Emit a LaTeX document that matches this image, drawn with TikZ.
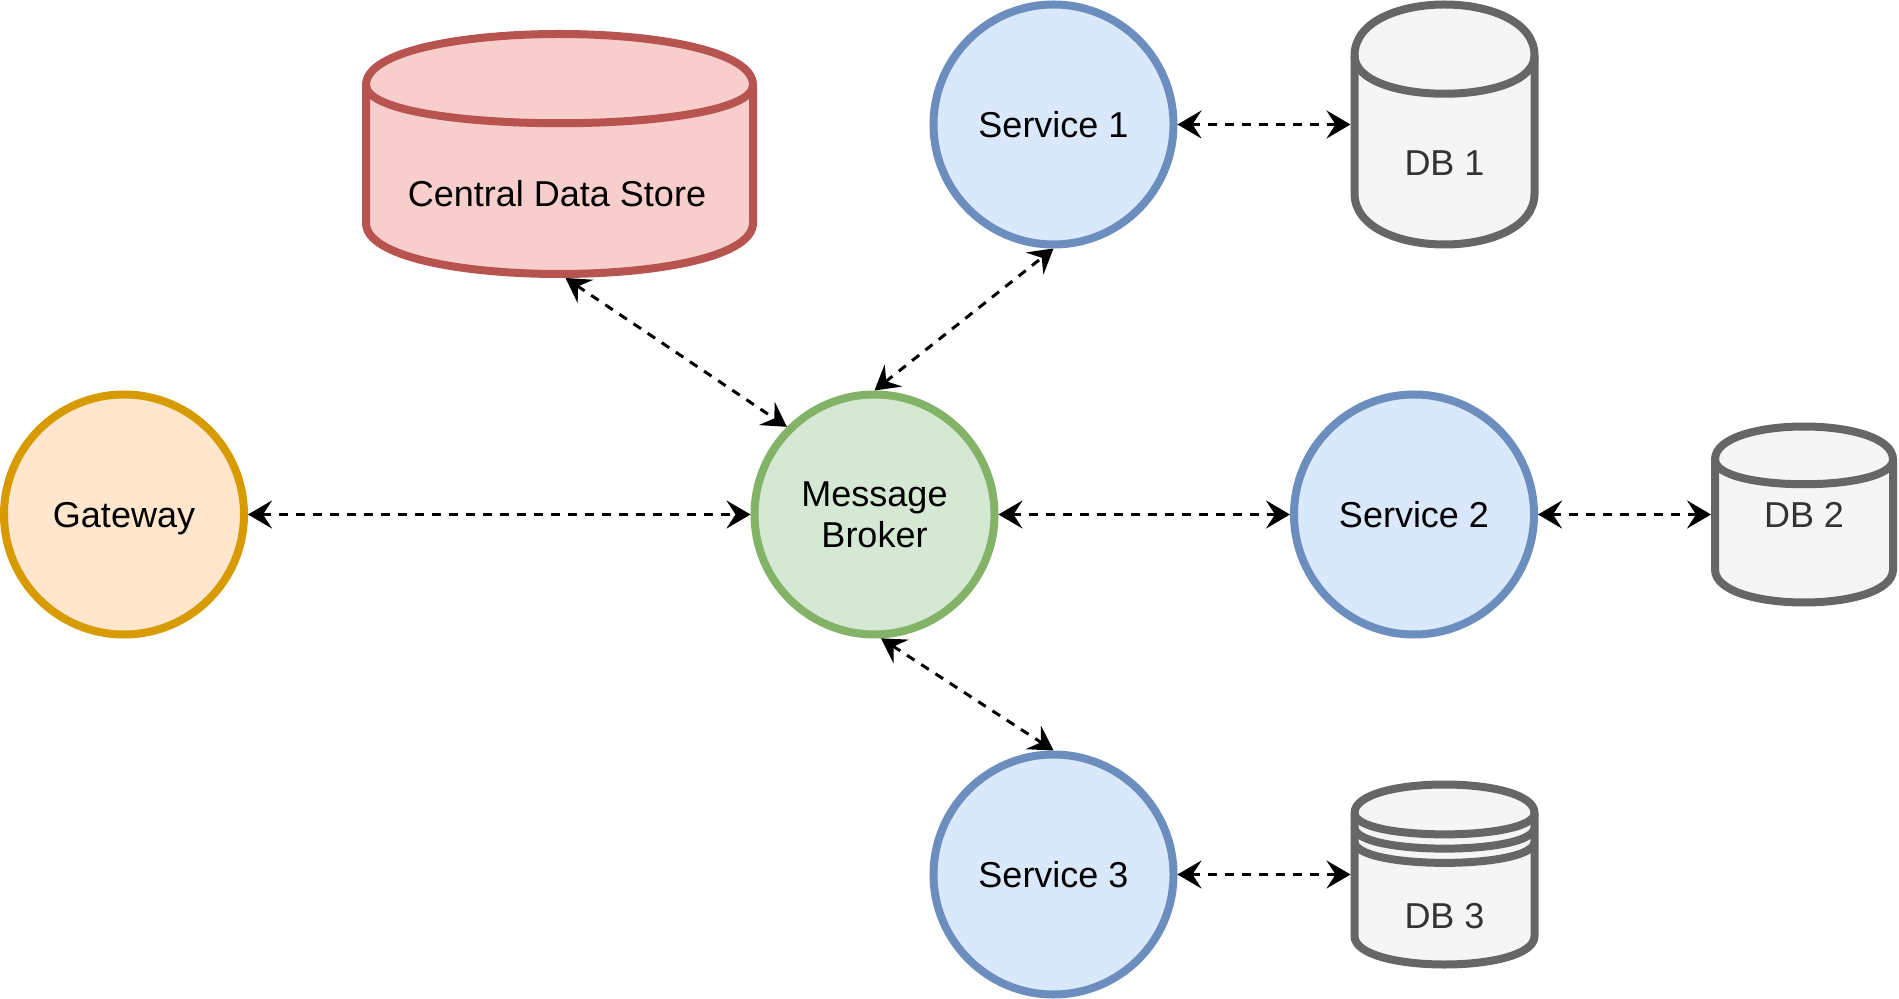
\documentclass[tikz,border=0pt]{standalone}
\usepackage{fontspec}
\setmainfont{Liberation Sans}
\usetikzlibrary{arrows.meta}
\definecolor{gwFill}{HTML}{FFE6CC}\definecolor{gwLine}{HTML}{D79B00}
\definecolor{mbFill}{HTML}{D5E8D4}\definecolor{mbLine}{HTML}{82B366}
\definecolor{svFill}{HTML}{DAE8FC}\definecolor{svLine}{HTML}{6C8EBF}
\definecolor{csFill}{HTML}{F8CECC}\definecolor{csLine}{HTML}{B85450}
\definecolor{dbFill}{HTML}{F5F5F5}\definecolor{dbLine}{HTML}{666666}
\definecolor{dbText}{HTML}{333333}
% #1 left x, #2 top y, #3 width, #4 height, #5 dy, #6 style
\newcommand\cylshape[6]{%
  \draw[#6] (#1,#2+#5) .. controls (#1,#2-#5/3) and (#1+#3,#2-#5/3) .. (#1+#3,#2+#5)
    -- (#1+#3,#2+#4-#5) .. controls (#1+#3,#2+#4+#5/3) and (#1,#2+#4+#5/3) .. (#1,#2+#4-#5) -- cycle;
  \draw[#6,fill=none] (#1,#2+#5) .. controls (#1,#2+2*#5) and (#1+#3,#2+2*#5) .. (#1+#3,#2+#5);
}
\newcommand\storebands[5]{%
  \draw[#5,fill=none] (#1,#2+1.5*#4) .. controls (#1,#2+2.5*#4) and (#1+#3,#2+2.5*#4) .. (#1+#3,#2+1.5*#4);
  \draw[#5,fill=none] (#1,#2+2*#4) .. controls (#1,#2+3*#4) and (#1+#3,#2+3*#4) .. (#1+#3,#2+2*#4);
}
\begin{document}
\begin{tikzpicture}[x=0.5pt,y=-0.5pt,
  every node/.style={font=\fontsize{18}{20.5}\selectfont},
  roundnode/.style={circle, line width=4pt, minimum size=120pt, inner sep=0pt, align=center, text depth=0pt},
  gateway/.style={roundnode, draw=gwLine, fill=gwFill},
  broker/.style={roundnode, draw=mbLine, fill=mbFill},
  service/.style={roundnode, draw=svLine, fill=svFill},
  cylbox/.style={rectangle, inner sep=0pt, outer sep=0pt},
  dbstyle/.style={line width=4pt, draw=dbLine, fill=dbFill},
  csstyle/.style={line width=4pt, draw=csLine, fill=csFill},
  dblabel/.style={text=dbText},
  conn/.style={draw=black, line width=1.5pt, dash pattern=on 4.5pt off 4pt,
    >={Stealth[length=12pt,width=14pt,inset=4.5pt]}, <->}]
\useasboundingbox (0,0) rectangle (1899,999);

% circles
\node[gateway] (gw) at (124,514.5) {Gateway};
\node[broker]  (mb) at (874.5,514.5) {Message\\Broker};
\node[service] (s1) at (1053.5,124.5) {Service 1};
\node[service] (s2) at (1414,514.5) {Service 2};
\node[service] (s3) at (1053.5,874.5) {Service 3};

% Central Data Store
\cylshape{366}{34}{387}{240}{51}{csstyle}
\node[cylbox, minimum width=197.5pt, minimum height=124pt] (cds) at (559.5,154) {};
\node (cdstxt) at (557,194) {Central Data Store};

% DB 1
\cylshape{1354.5}{4.5}{180}{240}{51}{dbstyle}
\node[cylbox, minimum width=94pt, minimum height=124pt] (db1) at (1444.5,124.5) {};
\node[dblabel] (db1txt) at (1444.5,163) {DB 1};

% DB 2
\cylshape{1715}{426.5}{178}{176}{33}{dbstyle}
\node[cylbox, minimum width=93pt, minimum height=92pt] (db2) at (1804,514.5) {};
\node[dblabel] (db2txt) at (1804,515) {DB 2};

% DB 3
\cylshape{1354.5}{784.5}{180}{180}{28.5}{dbstyle}
\storebands{1354.5}{784.5}{180}{28.5}{dbstyle}
\node[cylbox, minimum width=94pt, minimum height=94pt] (db3) at (1444.5,874.5) {};
\node[dblabel] (db3txt) at (1444.5,916) {DB 3};

% connectors
\draw[conn] (gw.east) -- (mb.west);
\draw[conn] (mb.east) -- (s2.west);
\draw[conn] (s2.east) -- (db2.west);
\draw[conn] (s1.east) -- (db1.west);
\draw[conn] (s3.east) -- (db3.west);
\draw[conn] ([xshift=3pt]cds.south) -- (mb.135);
\draw[conn] (mb.north) -- (s1.south);
\draw[conn] (mb.273) -- (s3.north);
\end{tikzpicture}
\end{document}
